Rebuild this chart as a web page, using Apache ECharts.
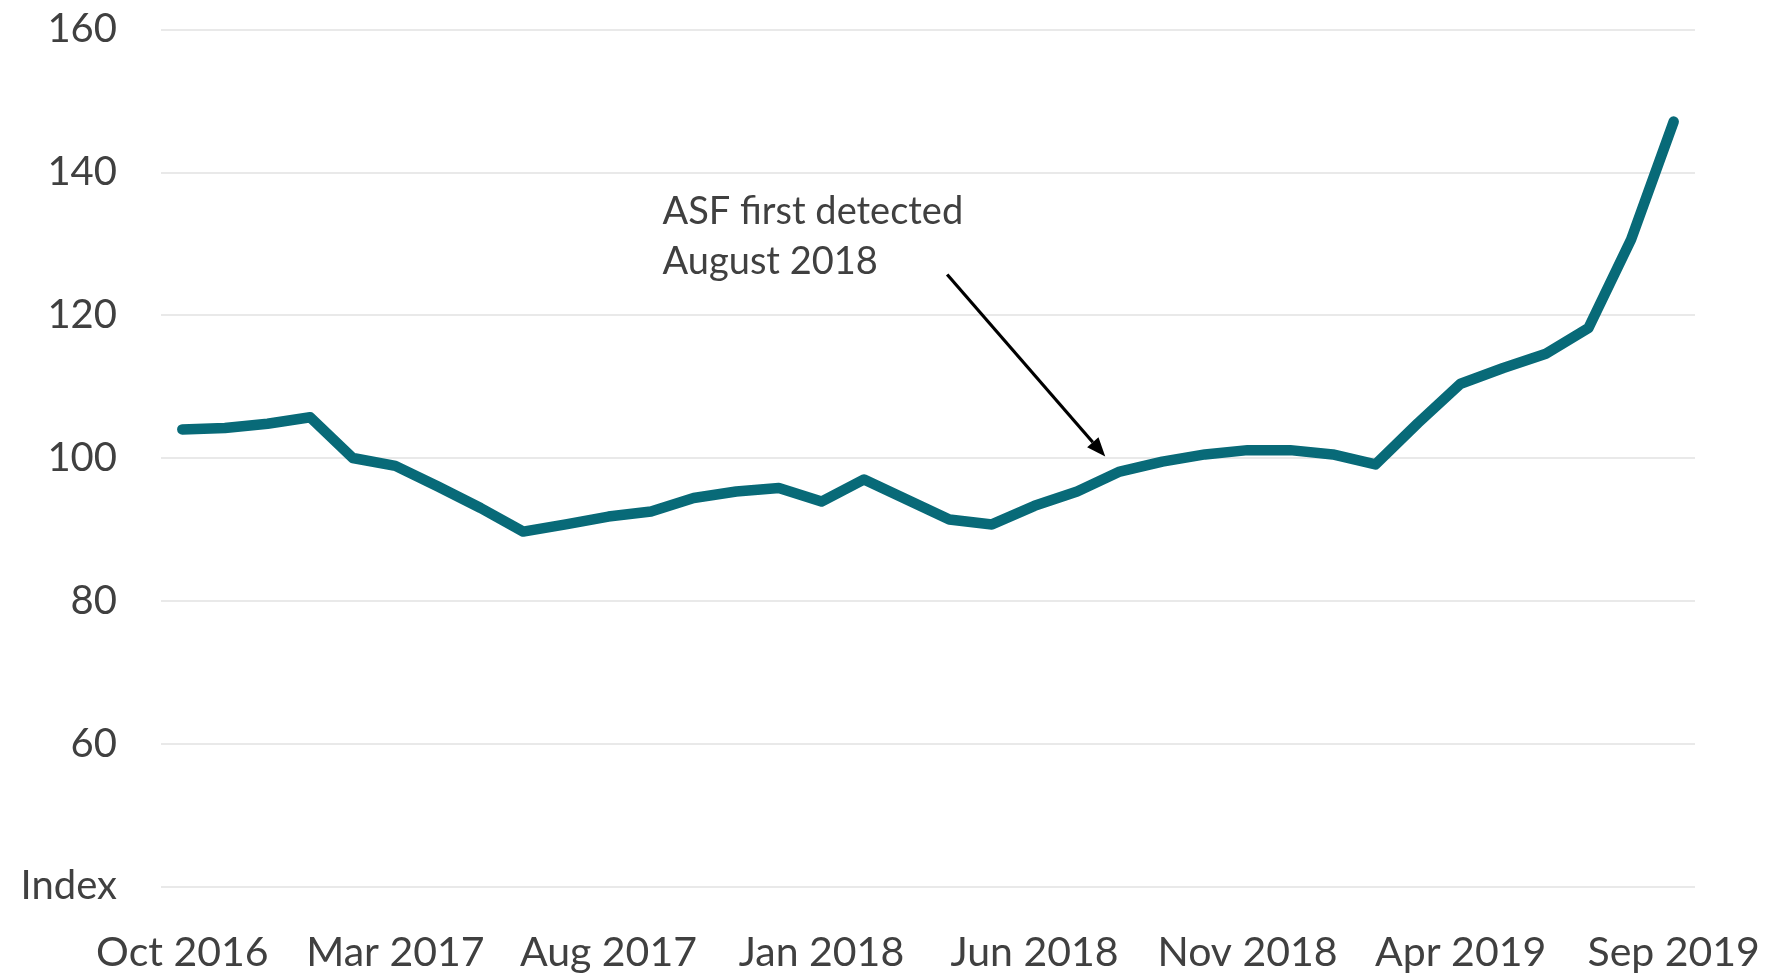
<!DOCTYPE html>
<html>
<head>
<meta charset="utf-8">
<script src="https://cdn.jsdelivr.net/npm/echarts@6/dist/echarts.min.js"></script>
<style>
  html, body { margin: 0; padding: 0; background: #fff; }
  #main { width: 1770px; height: 974px; }
</style>
</head>
<body>
<div id="main"></div>
<script>
// monthly categories, Oct 2016 - Sep 2019
var months = [
  'Oct 2016', 'Nov 2016', 'Dec 2016',
  'Jan 2017', 'Feb 2017', 'Mar 2017', 'Apr 2017', 'May 2017', 'Jun 2017',
  'Jul 2017', 'Aug 2017', 'Sep 2017', 'Oct 2017', 'Nov 2017', 'Dec 2017',
  'Jan 2018', 'Feb 2018', 'Mar 2018', 'Apr 2018', 'May 2018', 'Jun 2018',
  'Jul 2018', 'Aug 2018', 'Sep 2018', 'Oct 2018', 'Nov 2018', 'Dec 2018',
  'Jan 2019', 'Feb 2019', 'Mar 2019', 'Apr 2019', 'May 2019', 'Jun 2019',
  'Jul 2019', 'Aug 2019', 'Sep 2019'
];

// index values
var indexValues = [
  104.0, 104.2, 104.8,
  105.7, 100.0, 98.9, 96.0, 93.0, 89.7,
  90.7, 91.8, 92.5, 94.4, 95.3, 95.8,
  93.9, 97.0, 94.2, 91.4, 90.7, 93.3,
  95.3, 98.1, 99.5, 100.5, 101.1, 101.1,
  100.5, 99.1, 104.9, 110.4, 112.6, 114.6,
  118.2, 130.6, 147.1
];

// annotation, in [month index, value]
var noteText = ['ASF first detected', 'August 2018'];
var noteAt = [11.27, 131.0];
var arrowFrom = [17.95, 125.7];
var arrowTo = [21.66, 100.2];

var textColor = '#404040';
var fontFamily = 'Lato, "Open Sans", sans-serif';

var chart = echarts.init(document.getElementById('main'));

chart.setOption({
  backgroundColor: '#fff',
  animation: false,
  grid: { left: 161, right: 75, top: 29.5, bottom: 87.5 },
  xAxis: {
    type: 'category',
    data: months,
    boundaryGap: true,
    axisLine: { show: false },
    axisTick: { show: false },
    axisLabel: {
      interval: 4,
      color: textColor,
      fontFamily: fontFamily,
      fontSize: 41,
      verticalAlign: 'middle',
      margin: 66
    }
  },
  yAxis: {
    type: 'value',
    min: 40,
    max: 160,
    interval: 20,
    axisLine: { show: false },
    axisTick: { show: false },
    splitLine: { lineStyle: { color: '#e2e2e2', width: 1.5 } },
    axisLabel: {
      color: textColor,
      fontFamily: fontFamily,
      fontSize: 40,
      margin: 44,
      formatter: function (v) { return v === 40 ? 'Index' : String(v); }
    }
  },
  series: [{
    type: 'line',
    data: indexValues,
    symbol: 'none',
    lineStyle: { color: '#086a78', width: 10.5, cap: 'round', join: 'round' }
  }]
});

// fractional month positions, interpolated between category points
function toPx(pt) {
  var i = Math.floor(pt[0]);
  var a = chart.convertToPixel({ gridIndex: 0 }, [i, pt[1]]);
  var b = chart.convertToPixel({ gridIndex: 0 }, [i + 1, pt[1]]);
  return [a[0] + (b[0] - a[0]) * (pt[0] - i), a[1]];
}

var p0 = toPx(arrowFrom);
var p1 = toPx(arrowTo);
var np = toPx(noteAt);
var dx = p1[0] - p0[0], dy = p1[1] - p0[1];
var len = Math.sqrt(dx * dx + dy * dy);
var ux = dx / len, uy = dy / len;
var headLen = 19, headW = 7.5;
var bx = p1[0] - ux * headLen, by = p1[1] - uy * headLen;

chart.setOption({
  graphic: [
    {
      type: 'text',
      left: np[0],
      top: np[1] - 50.5,
      style: {
        text: noteText.join('\n'),
        fill: textColor,
        font: '38px ' + fontFamily,
        lineHeight: 50.5
      }
    },
    {
      type: 'line',
      shape: { x1: p0[0], y1: p0[1], x2: bx, y2: by },
      style: { stroke: '#000', lineWidth: 3.2 }
    },
    {
      type: 'polygon',
      shape: {
        points: [
          [p1[0], p1[1]],
          [bx - uy * headW, by + ux * headW],
          [bx + uy * headW, by - ux * headW]
        ]
      },
      style: { fill: '#000' }
    }
  ]
});
</script>
</body>
</html>
